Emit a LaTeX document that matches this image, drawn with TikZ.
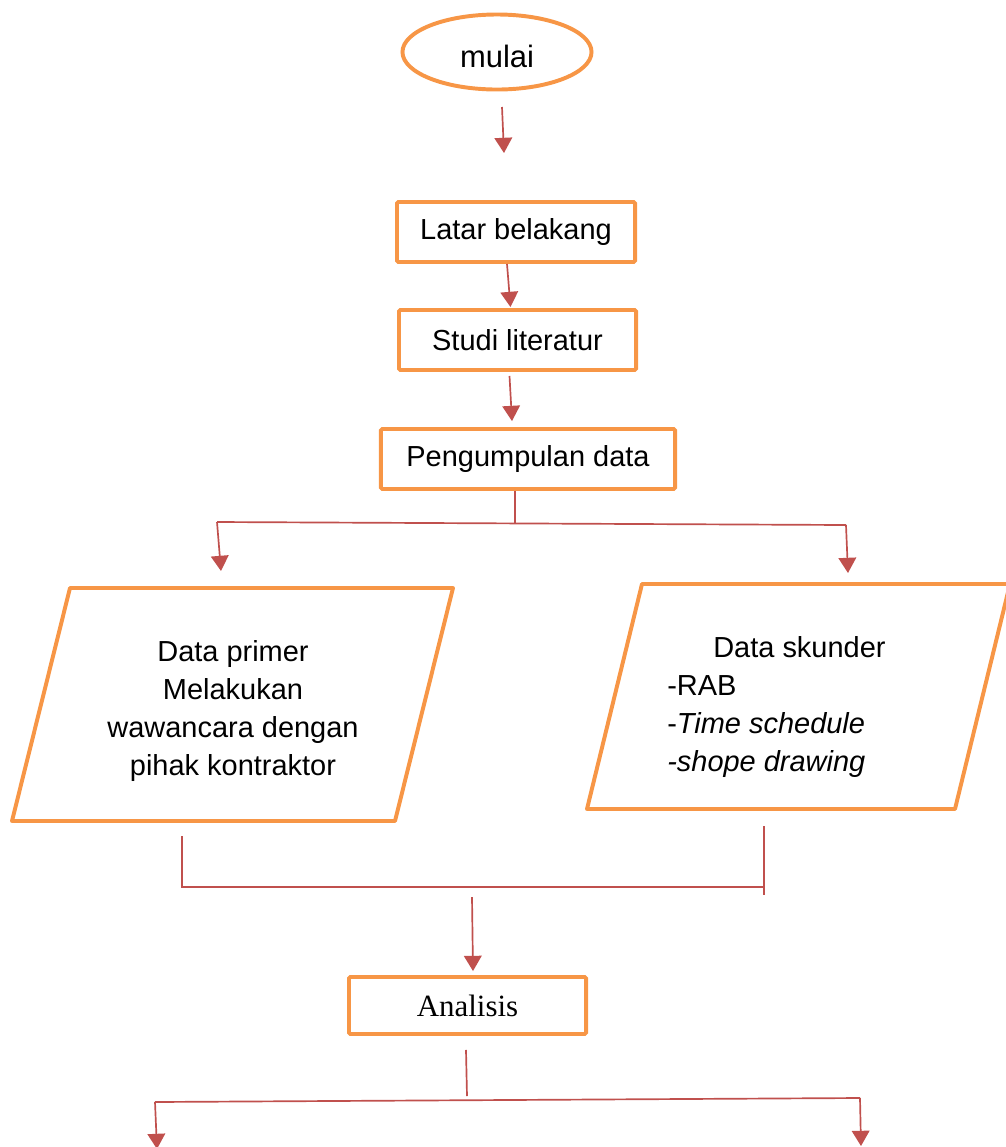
\documentclass[tikz,border=0pt]{standalone}
\usepackage{fontspec}
\setmainfont{Liberation Sans}
\newfontfamily\serifface{Liberation Serif}
\usetikzlibrary{positioning,arrows.meta,shapes.geometric,calc}
\definecolor{boxorange}{HTML}{F79646}
\definecolor{linkred}{HTML}{C0504D}

\begin{document}
\begin{tikzpicture}[
  x=0.025cm, y=-0.025cm,
  font=\fontsize{20.6}{27}\selectfont,
  terminal/.style={ellipse, draw=boxorange, line width=2.8pt, minimum width=4.725cm,
                   minimum height=1.875cm, inner sep=0pt, font=\fontsize{22}{26}\selectfont},
  process/.style={rectangle, rounded corners=1pt, draw=boxorange, line width=2.8pt,
                  minimum width=#1, minimum height=1.5cm, inner sep=0pt},
  io/.style={draw=boxorange, line width=2.8pt, line join=round},
  iotext/.style={inner sep=0pt, align=#1},
  link/.style={draw=linkred, line width=1.2pt},
  arrow/.style={-{Triangle[length=0.38cm, width=0.44cm]}, link},
]
\useasboundingbox (0,0) rectangle (1006,1147);

% ---- main column ----
\node[terminal] (mulai) at (497,52) {\raisebox{-0.12cm}[\height][\depth]{mulai}};
\node[process=5.95cm] (latar) at (516,232) {Latar belakang};
\node[process=5.925cm] (studi) at (517.5,340) {Studi literatur};
\node[process=7.35cm] (kumpul) at (528,459) {Pengumpulan data};

% ---- data boxes ----
\draw[io] (70,588) coordinate (primerNW) -- (453,588) coordinate (primerNE)
       -- (395,821) coordinate (primerSE) -- (12,821) coordinate (primerSW) -- cycle;
\node[iotext=center] (primer) at (233,711)
      {Data primer\\Melakukan\\wawancara dengan\\pihak kontraktor};

\draw[io] (642,584) coordinate (skunderNW) -- (1010,584) coordinate (skunderNE)
       -- (955,809) coordinate (skunderSE) -- (587,809) coordinate (skunderSW) -- cycle;
\node[iotext=left, anchor=west] (skunder) at (667,707)
      {\hspace*{1.15cm}Data skunder\\-RAB\\-\textit{Time schedule}\\\textit{-shope drawing}};

\node[process=5.925cm, minimum height=1.425cm, font=\serifface\fontsize{22}{26}\selectfont]
      (analisis) at (467.5,1005.5) {Analisis};

% ---- free ends of connectors ----
\coordinate (startA) at (502,107);
\coordinate (startB) at (504,153);
\coordinate (splitC) at (515,523);
\coordinate (splitL) at (217,522);
\coordinate (splitR) at (846,525);
\coordinate (tipL) at (221,571);
\coordinate (tipR) at (848,573);
\coordinate (legL) at (182,836);
\coordinate (legR) at (764,826);
\coordinate (joinL) at (182,887);
\coordinate (joinR) at (764,887);
\coordinate (joinC) at (472,897);
\coordinate (endC) at (467,1096);
\coordinate (endL) at (155,1102);
\coordinate (endR) at (860,1098);
\coordinate (endLtip) at (157,1149);
\coordinate (endRtip) at (861,1146);

% ---- connectors ----
\draw[arrow] (startA) -- (startB);
\draw[arrow] ($(latar.south)+(-9,0)$) -- ($(studi.north)+(-7,-1)$);
\draw[arrow] ($(studi.south)+(-8,4)$) -- ($(kumpul.north)+(-16,-6)$);

\draw[link] ($(kumpul.south)+(-13,0)$) -- (splitC);
\draw[link] (splitL) -- (splitR);
\draw[arrow] (splitL) -- (tipL);
\draw[arrow] (splitR) -- (tipR);

\draw[link] (legL) -- (joinL) -- (joinR);
\draw[link] (legR) -- ($(joinR)+(0,8)$);
\draw[arrow] (joinC) -- ($(analisis.north)+(5.5,-4)$);

\draw[link] ($(analisis.south)+(-1.5,14)$) -- (endC);
\draw[link] (endL) -- (endR);
\draw[arrow] (endL) -- (endLtip);
\draw[arrow] (endR) -- (endRtip);

\end{tikzpicture}
\end{document}
